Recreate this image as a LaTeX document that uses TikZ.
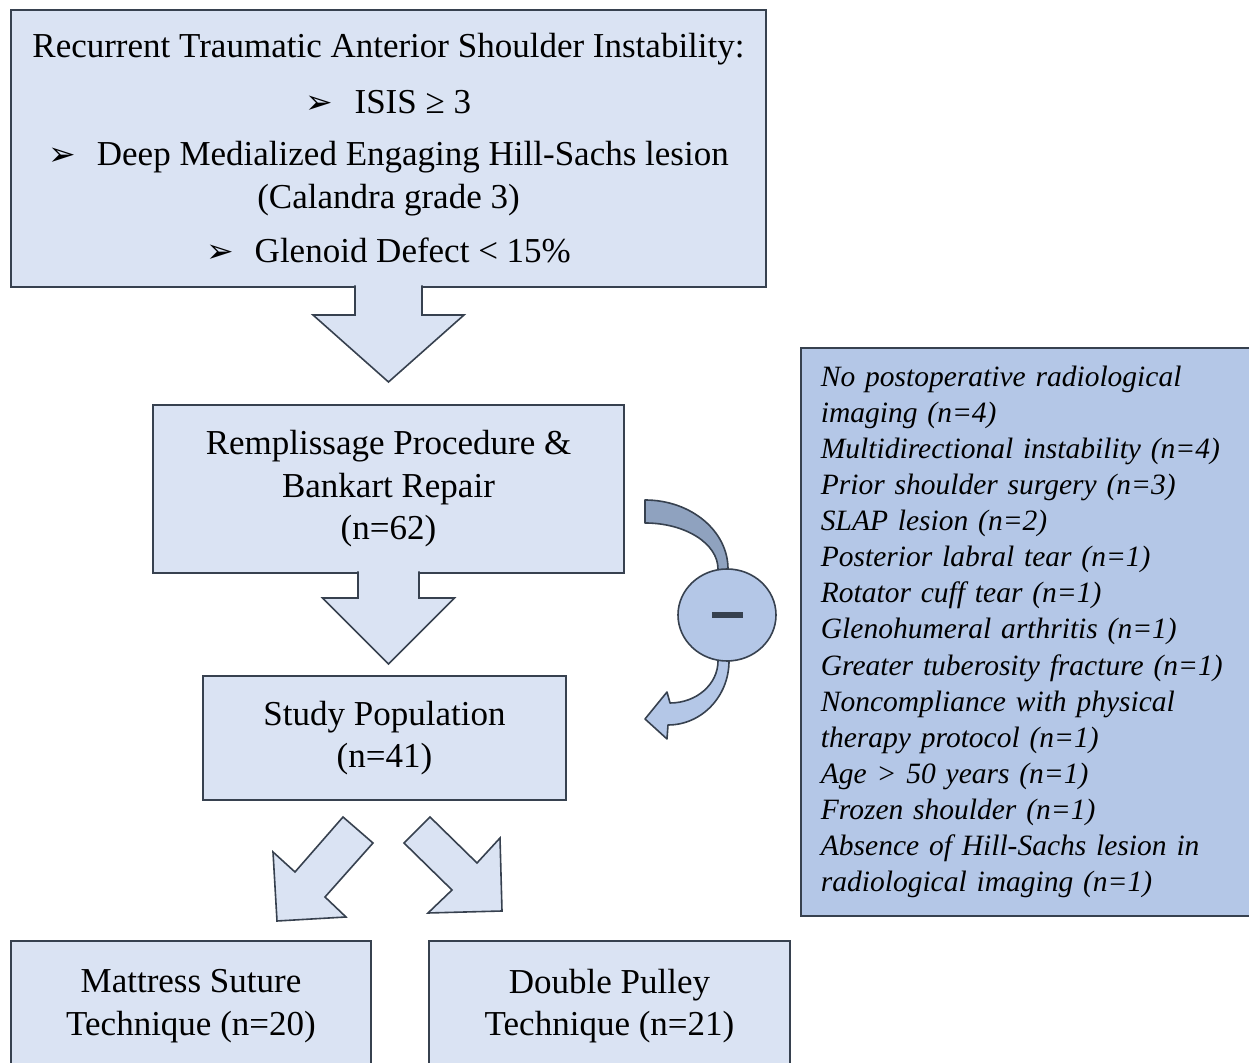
\documentclass[tikz,border=0pt]{standalone}
\usepackage{fontspec}
\setmainfont{Liberation Serif}
\newfontfamily\bulletfont{DejaVu Sans}
\usetikzlibrary{positioning, shapes.geometric}

\definecolor{boxfill}{HTML}{DAE3F3}
\definecolor{exclfill}{HTML}{B4C7E7}
\definecolor{backfill}{HTML}{8FA2BF}
\definecolor{edge}{HTML}{37414F}

\newcommand{\arrowbullet}{{\bulletfont\fontsize{33}{36}\selectfont ➢}\hspace{21pt}}

\tikzset{
  box/.style={rectangle, draw=edge, line width=1.8pt, fill=boxfill, align=center,
    inner sep=0pt, outer sep=0pt, font=\fontsize{35}{42.5}\selectfont},
  blockarrow/.style={draw=edge, line width=1.6pt, fill=boxfill, line join=miter},
  curvedarrow/.style={draw=edge, line width=1.6pt, line join=round},
}

\begin{document}
\begin{tikzpicture}[x=1pt, y=1pt]
    \useasboundingbox (0,0) rectangle (1249,1062);
    \clip (0,0) rectangle (1249,1062);

    % Inclusion criteria
    \node[box, minimum width=755pt, minimum height=277pt] (criteria) at (388.5,913.5)
        {Recurrent Traumatic Anterior Shoulder Instability:\\[13pt]
         \arrowbullet ISIS ≥ 3\\[10pt]
         \arrowbullet Deep Medialized Engaging Hill-Sachs lesion\\
         (Calandra grade 3)\\[12pt]
         \arrowbullet Glenoid Defect < 15\%};

    % Main chain
    \node[box, minimum width=471pt, minimum height=168pt, below=118pt of criteria] (repair)
        {Remplissage Procedure \&\\Bankart Repair\\(n=62)};
    \node[box, minimum width=363pt, minimum height=124pt, below=103pt of repair, xshift=-4pt] (study)
        {Study Population\\(n=41)};

    % Groups
    \node[box, minimum width=360pt, minimum height=130pt, anchor=north west] (mattress) at (11,121)
        {Mattress Suture\\Technique (n=20)};
    \node[box, minimum width=361pt, minimum height=130pt, right=58pt of mattress] (pulley)
        {Double Pulley\\Technique (n=21)};

    % Exclusions
    \node[rectangle, draw=edge, line width=1.8pt, fill=exclfill, anchor=north west,
          minimum height=568pt, text width=425pt, inner xsep=20pt, inner ysep=0pt, align=left,
          font=\itshape\fontsize{29.5}{36.1}\selectfont] (excluded) at (800,715)
        {No postoperative radiological\\
         imaging (n=4)\\
         Multidirectional instability (n=4)\\
         Prior shoulder surgery (n=3)\\
         SLAP lesion (n=2)\\
         Posterior labral tear (n=1)\\
         Rotator cuff tear (n=1)\\
         Glenohumeral arthritis (n=1)\\
         Greater tuberosity fracture (n=1)\\
         Noncompliance with physical\\
         therapy protocol (n=1)\\
         Age > 50 years (n=1)\\
         Frozen shoulder (n=1)\\
         Absence of Hill-Sachs lesion in\\
         radiological imaging (n=1)};

    % Block arrows
    \filldraw[blockarrow, shift={(criteria.south)}] (-33.5,1.5) -- (-33.5,-28) -- (-75.5,-28)
        -- (0,-95) -- (75.5,-28) -- (33.5,-28) -- (33.5,1.5);
    \filldraw[blockarrow, shift={(repair.south)}] (-30.5,1.5) -- (-30.5,-25) -- (-66,-25)
        -- (0,-91) -- (66,-25) -- (30.5,-25) -- (30.5,1.5);
    \filldraw[blockarrow, shift={(study.south)}] (-41.5,-17) -- (-11.5,-43) -- (-59.5,-97)
        -- (-38.5,-117) -- (-107.5,-121) -- (-111.5,-52) -- (-89.5,-72) -- cycle;
    \filldraw[blockarrow, shift={(study.south)}] (19.5,-43) -- (45.5,-17) -- (92.5,-63)
        -- (115.5,-38) -- (117.5,-111) -- (43.5,-113) -- (67.5,-90) -- cycle;

    % Minus sign with curved arrow
    \coordinate (minuscenter) at (727,447);
    \filldraw[curvedarrow, fill=backfill, shift={(minuscenter)}] (1,38) -- (1,46)
        arc[start angle=0, end angle=90, x radius=83, y radius=69] -- ++(0,-23)
        arc[start angle=90, end angle=0, x radius=73, y radius=46] -- (-9,38) -- cycle;
    \filldraw[curvedarrow, fill=exclfill, shift={(minuscenter)}] (-9,-38) -- (-9,-46)
        arc[start angle=0, end angle=-90, x radius=48, y radius=42] -- (-60,-77)
        -- (-82,-104) -- (-60,-124) -- (-59,-110)
        arc[start angle=-90, end angle=0, x radius=61, y radius=64] -- (2,-38) -- cycle;
    \node[ellipse, draw=edge, line width=1.6pt, fill=exclfill, minimum width=98pt,
          minimum height=92pt, inner sep=0pt] (minus) at (minuscenter)
        {\color{edge}\rule[-3pt]{31pt}{6pt}};
\end{tikzpicture}
\end{document}
